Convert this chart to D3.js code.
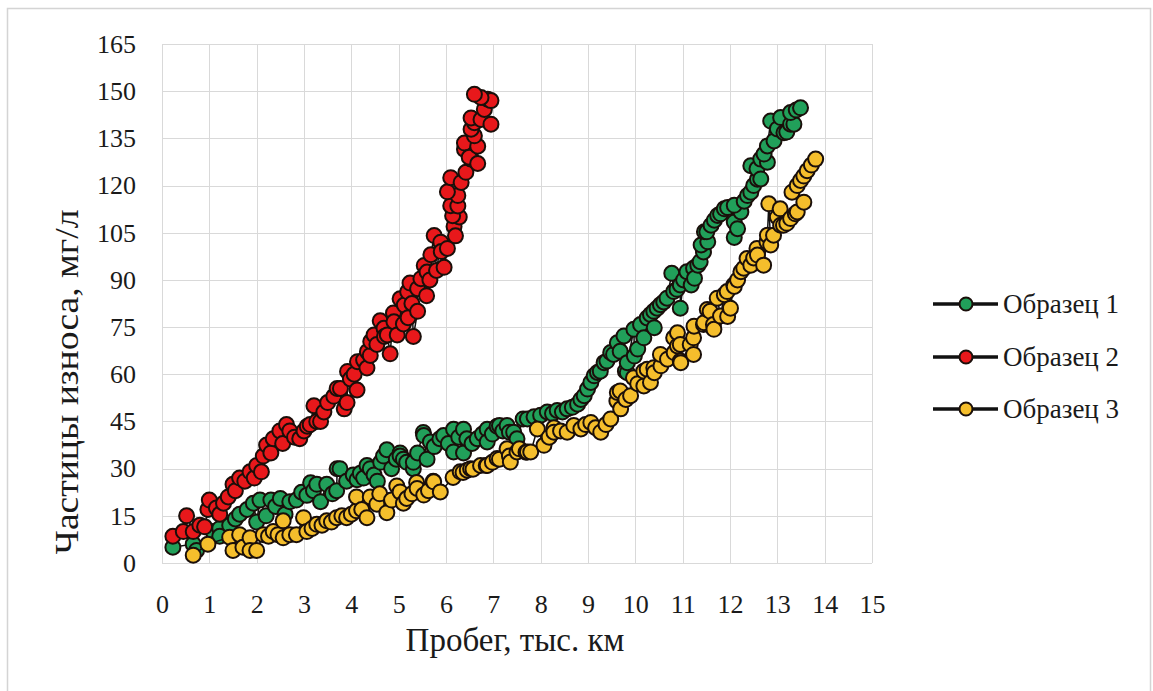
<!DOCTYPE html>
<html><head><meta charset="utf-8">
<script src="https://cdn.jsdelivr.net/npm/d3@7"></script>
<style>
html,body{margin:0;padding:0;background:#fff;}
svg{display:block;}
text{font-family:"Liberation Serif","Times New Roman",serif;fill:#1a1a1a;}
</style></head>
<body>
<svg id="chart" width="1153" height="691"></svg>
<script>
const seriesNames = ["Образец 1", "Образец 2", "Образец 3"];
const seriesColors = ["#21A05A", "#E8181B", "#F5BE2C"];
const xTicks = d3.range(0, 16, 1);
const yTicks = d3.range(0, 166, 15);
const xTitle = "Пробег, тыс. км";
const yTitle = "Частицы износа, мг/л";

const sample1 = [[0.23,5],[0.66,6],[0.73,4],[1.08,10],[1.22,11],[1.22,8.5],[1.43,12],[1.55,14],[1.64,15.5],[1.8,17],[1.93,19],[2.0,13],[2.07,20],[2.2,15],[2.3,20],[2.4,18],[2.5,20.5],[2.6,15.5],[2.7,19.5],[2.84,20],[2.95,22.5],[3.06,21.5],[3.14,25.5],[3.2,23],[3.27,25],[3.35,19.5],[3.48,25],[3.6,22],[3.69,23],[3.7,30],[3.76,30],[3.9,26],[4.04,28],[4.12,26.5],[4.19,28.5],[4.26,27],[4.33,31],[4.4,30],[4.48,28],[4.55,26],[4.62,32],[4.68,34],[4.75,36],[4.85,30],[4.95,33],[5.03,35],[5.03,34],[5.1,33],[5.17,32],[5.31,30],[5.31,32],[5.4,35],[5.52,41.5],[5.53,40.5],[5.6,33],[5.67,38.5],[5.75,37],[5.87,39.5],[5.95,40.5],[6.05,38],[6.16,42.5],[6.16,35.3],[6.27,40],[6.37,42.5],[6.37,35],[6.44,39.5],[6.55,38],[6.66,39.5],[6.77,41],[6.87,42.5],[6.87,38.5],[6.98,41],[7.08,43.5],[7.13,43.7],[7.2,42],[7.29,43.7],[7.34,41.6],[7.43,41.6],[7.5,39.5],[7.63,45.8],[7.72,45.8],[7.86,46.5],[8.0,47],[8.14,48],[8.25,47.5],[8.35,48.5],[8.46,48],[8.56,49],[8.67,49.5],[8.78,50.5],[8.85,52],[8.92,53.2],[8.99,55.3],[9.06,57.4],[9.13,59.5],[9.2,60.6],[9.26,61],[9.34,63.7],[9.4,64.2],[9.48,66.9],[9.54,66.3],[9.62,70],[9.68,67.3],[9.76,72.2],[9.79,61],[9.83,60.5],[9.83,63.7],[9.97,74.3],[9.98,65.8],[10.05,68],[10.11,75.8],[10.18,71.6],[10.25,77.9],[10.32,79],[10.39,80],[10.4,74.8],[10.46,81],[10.53,82.1],[10.6,83],[10.67,84.2],[10.77,92.1],[10.81,86.3],[10.88,87],[10.95,88.4],[10.95,81],[11.02,90],[11.09,92.6],[11.18,88.4],[11.23,93.7],[11.25,90.5],[11.32,94.7],[11.37,95.8],[11.44,98.9],[11.39,101.1],[11.53,102.1],[11.46,105.3],[11.51,105.3],[11.6,107.4],[11.67,109],[11.74,110.5],[11.8,111],[11.88,112.6],[11.95,113],[12.09,108.4],[12.09,103.5],[12.16,106.3],[12.23,111.6],[12.09,113.7],[12.3,115],[12.37,116.8],[12.44,117.9],[12.5,120],[12.58,122],[12.44,126.3],[12.57,125.3],[12.65,128.4],[12.79,127.4],[12.65,122.1],[12.72,130],[12.79,132.6],[12.86,140.5],[12.93,134.2],[13.0,138],[13.07,141.6],[13.14,136.8],[13.2,137],[13.28,139.5],[13.35,139.5],[13.28,143.2],[13.4,144],[13.49,144.7]];

const sample2 = [[0.23,8.5],[0.45,10],[0.52,15],[0.66,10],[0.8,12],[0.9,11.5],[0.97,17],[1.0,20],[1.15,17.5],[1.22,15.5],[1.3,19],[1.4,21],[1.5,25],[1.55,23],[1.64,27],[1.75,26],[1.86,29],[1.95,27],[2.0,31],[2.1,29],[2.14,34],[2.21,37.5],[2.3,35],[2.35,39.5],[2.49,42],[2.55,38],[2.63,44],[2.7,42],[2.8,40],[2.91,39.5],[3.0,42],[3.07,43.5],[3.13,44],[3.21,50],[3.27,45],[3.35,45],[3.42,48],[3.5,51],[3.63,53],[3.7,55.5],[3.77,55.5],[3.85,49],[3.91,51],[3.92,60.9],[3.98,58.5],[4.06,60],[4.12,55],[4.13,64],[4.26,64.5],[4.33,62],[4.34,67.2],[4.4,66],[4.41,70.4],[4.48,72.5],[4.54,69.5],[4.61,77],[4.69,74.6],[4.7,72],[4.76,72.5],[4.82,66.5],[4.89,79.5],[4.9,76.7],[4.97,72.5],[5.03,84],[5.1,76],[5.12,82],[5.19,86.2],[5.2,78],[5.24,89],[5.28,82.5],[5.31,72],[5.4,80],[5.4,87.2],[5.47,90.4],[5.54,94.6],[5.59,85],[5.6,92.5],[5.66,90],[5.68,98],[5.75,104.1],[5.8,93],[5.89,102],[5.9,99],[5.96,94],[6.03,100],[6.17,107],[6.2,104],[6.28,110],[6.14,110.4],[6.1,113.6],[6.25,113.5],[6.25,116.8],[6.03,118],[6.1,122.5],[6.32,121],[6.42,124.2],[6.53,128.4],[6.39,131.5],[6.39,133.5],[6.49,129],[6.67,127],[6.67,132.5],[6.6,135.8],[6.53,137.9],[6.6,140],[6.53,141.5],[6.74,141],[6.95,139.5],[6.81,144.2],[6.88,147.4],[6.95,147],[6.74,148],[6.6,149]];

const sample3 = [[0.66,2.5],[0.97,6],[1.43,8.2],[1.5,4],[1.64,9],[1.71,5],[1.86,8],[1.86,4],[2.0,4],[2.14,9],[2.25,8.5],[2.35,10],[2.45,9],[2.56,8],[2.56,13.4],[2.7,9],[2.84,9],[2.99,14.4],[3.06,10],[3.17,11],[3.27,12.3],[3.38,12],[3.48,13.4],[3.58,13],[3.69,14.4],[3.8,15],[3.9,14.4],[4.0,15.5],[4.11,16.6],[4.11,21],[4.22,17],[4.33,14.4],[4.4,21],[4.54,18.7],[4.6,22],[4.75,16],[4.85,20],[4.96,24.5],[5.03,22.6],[5.1,19],[5.17,20.5],[5.28,22],[5.38,25.6],[5.39,23.7],[5.53,21.6],[5.63,23],[5.73,26],[5.74,25.8],[5.88,22.6],[6.15,27.2],[6.3,29],[6.36,28.8],[6.45,29.5],[6.52,30],[6.57,29.8],[6.73,31],[6.85,31],[6.87,31],[6.98,32],[7.08,33.2],[7.13,33],[7.29,36.3],[7.34,34],[7.36,32.1],[7.5,35.3],[7.55,36.3],[7.69,35.2],[7.72,35.3],[7.79,35.3],[7.93,42.6],[8.07,37.4],[8.18,40],[8.28,43],[8.28,41.6],[8.42,42],[8.56,41.6],[8.7,43.7],[8.85,42.6],[8.95,44],[9.06,44.7],[9.16,43],[9.27,41.6],[9.38,44],[9.48,45.8],[9.61,51.5],[9.62,54.2],[9.68,54.7],[9.69,49],[9.8,52],[9.9,53.2],[9.96,58.9],[10.05,57],[10.18,56.3],[10.18,61],[10.25,61.6],[10.32,57.4],[10.39,62.1],[10.4,60.5],[10.54,62.7],[10.53,66.3],[10.68,64.8],[10.82,66.9],[10.81,71.6],[10.89,69],[10.89,73.2],[10.95,69.5],[10.95,64.2],[10.96,63.7],[11.16,69.5],[11.23,71.6],[11.23,66.3],[11.24,75.3],[11.44,75.8],[11.45,76.4],[11.52,80.6],[11.58,80],[11.65,75.8],[11.66,74.3],[11.73,84.2],[11.8,78.5],[11.88,85.3],[11.95,78.4],[11.94,86.3],[12.01,81],[12.08,88.4],[12.09,87.9],[12.16,90],[12.23,92.6],[12.29,93.7],[12.36,96.8],[12.44,94.7],[12.5,97],[12.57,100],[12.58,97.9],[12.71,94.7],[12.78,102.1],[12.79,104.2],[12.82,114.2],[12.86,101.1],[12.92,104.2],[13.0,110],[13.06,112.6],[13.07,107.4],[13.13,107.4],[13.2,108],[13.28,109.5],[13.38,111],[13.42,111.6],[13.56,114.7],[13.31,117.9],[13.42,120],[13.49,121.6],[13.56,123],[13.63,124.7],[13.72,126.5],[13.81,128.4]];

const seriesData = [sample1, sample2, sample3];

const svg = d3.select("#chart");
// outer frame
svg.append("rect").attr("x", 7.5).attr("y", 8.5).attr("width", 1143).attr("height", 700)
  .attr("fill", "#fff").attr("stroke", "#d4d4d4").attr("stroke-width", 1.5);

const x = d3.scaleLinear().domain([0, 15]).range([162, 872]);
const y = d3.scaleLinear().domain([0, 165]).range([563, 44]);

// gridlines
const grid = svg.append("g");
grid.selectAll("line.v").data(xTicks).join("line")
  .attr("x1", d => Math.round(x(d)) + 0.5).attr("x2", d => Math.round(x(d)) + 0.5)
  .attr("y1", y(165)).attr("y2", y(0))
  .attr("stroke", "#d9d9d9").attr("stroke-width", 1);
grid.selectAll("line.h").data(yTicks).join("line")
  .attr("y1", d => Math.round(y(d)) + 0.5).attr("y2", d => Math.round(y(d)) + 0.5)
  .attr("x1", x(0)).attr("x2", x(15))
  .attr("stroke", "#d9d9d9").attr("stroke-width", 1);

// axes (labels only)
const xAxis = d3.axisBottom(x).tickValues(xTicks).tickSize(0).tickPadding(0).tickFormat(d3.format("d"));
const gx = svg.append("g").attr("transform", `translate(0,${y(0) + 41})`).call(xAxis);
gx.select(".domain").remove();
gx.selectAll("text").attr("font-size", 26).attr("font-family", "Liberation Serif").attr("fill", "#1a1a1a").attr("dy", "0.35em");

const yAxis = d3.axisLeft(y).tickValues(yTicks).tickSize(0).tickPadding(0).tickFormat(d3.format("d"));
const gy = svg.append("g").attr("transform", `translate(136,0)`).call(yAxis);
gy.select(".domain").remove();
gy.selectAll("text").attr("font-size", 26).attr("font-family", "Liberation Serif").attr("fill", "#1a1a1a");

// titles
svg.append("text").attr("x", 515).attr("y", 651).attr("text-anchor", "middle")
  .attr("font-size", 33).text(xTitle);
svg.append("text").attr("transform", "translate(78,382) rotate(-90)").attr("text-anchor", "middle")
  .attr("font-size", 33).attr("textLength", 345).attr("lengthAdjust", "spacingAndGlyphs").text(yTitle);

// series
const line = d3.line().x(d => x(d[0])).y(d => y(d[1]));
seriesData.forEach((data, i) => {
  const g = svg.append("g");
  g.append("path").datum(data).attr("d", line).attr("fill", "none")
    .attr("stroke", "#111").attr("stroke-width", 1.5);
  g.selectAll("circle").data(data).join("circle")
    .attr("cx", d => x(d[0])).attr("cy", d => y(d[1])).attr("r", 7.5)
    .attr("fill", seriesColors[i]).attr("stroke", "#1a0f0a").attr("stroke-width", 2);
});

// legend
const legendY = [304, 357, 409];
const lg = svg.append("g");
seriesNames.forEach((name, i) => {
  const g = lg.append("g");
  g.append("line").attr("x1", 933).attr("x2", 998).attr("y1", legendY[i]).attr("y2", legendY[i])
    .attr("stroke", "#111").attr("stroke-width", 3.5);
  g.append("circle").attr("cx", 966).attr("cy", legendY[i]).attr("r", 6.5)
    .attr("fill", seriesColors[i]).attr("stroke", "#1a0f0a").attr("stroke-width", 2);
  g.append("text").attr("x", 1003).attr("y", legendY[i]).attr("dy", "0.35em")
    .attr("font-size", 27).text(name);
});
</script>
</body></html>
